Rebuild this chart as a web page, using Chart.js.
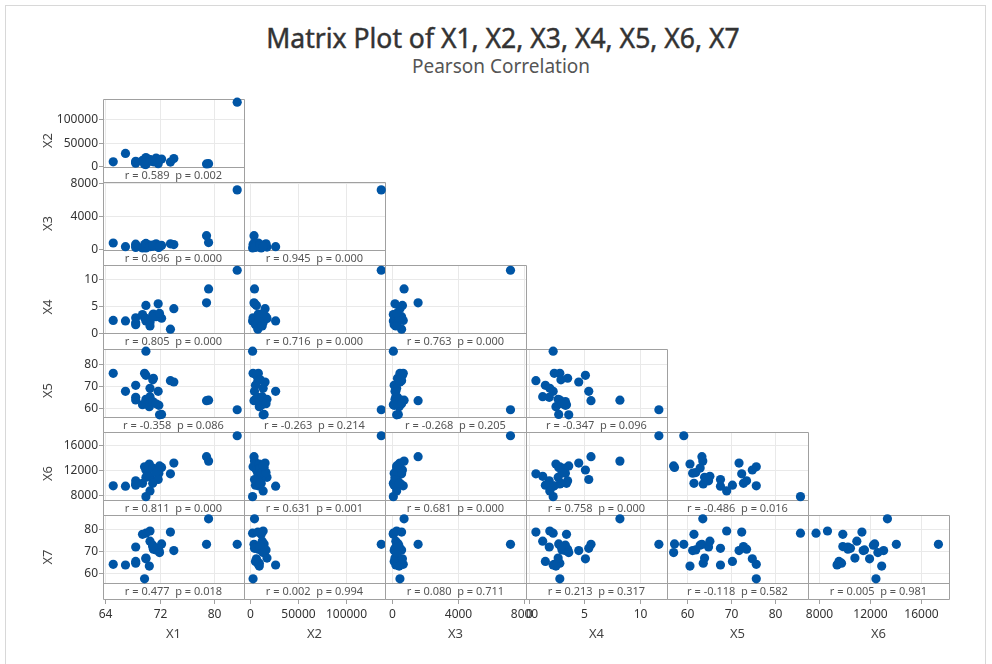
<!DOCTYPE html>
<html><head><meta charset="utf-8">
<script src="https://cdn.jsdelivr.net/npm/chart.js@4.4.0/dist/chart.umd.min.js"></script>
<style>
html,body{margin:0;padding:0;background:#fff;}
body{width:992px;height:664px;position:relative;overflow:hidden;font-family:'Noto Sans',sans-serif;}
#frame{position:absolute;left:5px;top:5px;width:981px;height:720px;border:1px solid #d8d8d8;box-sizing:border-box;}
#title{position:absolute;left:0;width:1006px;top:21px;text-align:center;font-size:26.5px;font-weight:400;-webkit-text-stroke:0.45px #333;line-height:34px;color:#333;}
#sub{position:absolute;left:0;width:1002px;top:53px;text-align:center;font-size:19px;line-height:26px;color:#555;}
canvas{position:absolute;}
</style></head><body>
<div id="frame"></div>
<div id="title">Matrix Plot of X1, X2, X3, X4, X5, X6, X7</div>
<div id="sub">Pearson Correlation</div>
<script>
// ---- data (one entry per observation) ----
const varNames = ['X1','X2','X3','X4','X5','X6','X7'];
const X1 = [83.4, 79.2, 78.9, 70.0, 69.8, 65.2, 67.0, 68.5, 68.5, 68.5, 69.5, 70.6, 73.6, 70.5, 70.0, 70.0, 70.6, 72.3, 71.0, 74.1, 71.9, 71.1, 71.5, 71.8, 71.0, 72.0];
const X2 = [137000, 5000, 4500, 3000, 3500, 9000, 27000, 8000, 6000, 10000, 12000, 14000, 8500, 10000, 18000, 7000, 13000, 15000, 11000, 16000, 12000, 9000, 17000, 5000, 11000, 14000];
const X3 = [7200, 750, 1600, 100, 500, 700, 250, 350, 150, 550, 100, 300, 600, 450, 200, 650, 250, 400, 300, 500, 150, 350, 600, 200, 450, 300];
const X4 = [11.7, 8.2, 5.6, 2.2, 2.8, 2.3, 2.2, 1.85, 1.5, 2.8, 3.4, 1.9, 0.65, 2.45, 2.65, 5.1, 1.26, 2.7, 3.3, 4.5, 3.3, 3.5, 3.0, 5.4, 2.9, 3.6];
const X5 = [59.3, 63.6, 63.4, 85.7, 75.7, 75.7, 67.6, 64.9, 70.3, 63.7, 61.6, 69.0, 72.4, 60.7, 64.0, 74.8, 65.2, 57.2, 63.0, 71.8, 61.3, 73.5, 62.0, 67.6, 72.8, 57.0];
const X6 = [17400, 13400, 14100, 7800, 12500, 9500, 9450, 10300, 9600, 9800, 9900, 8700, 11400, 12950, 10850, 12000, 11000, 12400, 12300, 13100, 11500, 10300, 11600, 10500, 9900, 12650];
const X7 = [73.0, 84.5, 73.0, 78.0, 57.5, 64.0, 63.7, 71.8, 65.3, 64.5, 77.5, 79.0, 78.5, 63.2, 66.8, 66.5, 74.4, 73.2, 72.6, 70.2, 70.2, 70.8, 70.5, 71.2, 72.0, 69.3];

// ---- tick labels per variable ----
const tickX1 = [64, 72, 80];
const tickX2 = [0, 50000, 100000];
const tickX3 = [0, 4000, 8000];
const tickX4 = [0, 5, 10];
const tickX5 = [60, 70, 80];
const tickX6 = [8000, 12000, 16000];
const tickX7 = [60, 70, 80];

// ---- correlation labels, row by row (rows X2..X7, columns X1..) ----
const rValues = [
  ['0.589'],
  ['0.696','0.945'],
  ['0.805','0.716','0.763'],
  ['-0.358','-0.263','-0.268','-0.347'],
  ['0.811','0.631','0.681','0.758','-0.486'],
  ['0.477','0.002','0.080','0.213','-0.118','0.005']
];
const pValues = [
  ['0.002'],
  ['0.000','0.000'],
  ['0.000','0.000','0.000'],
  ['0.086','0.214','0.205','0.096'],
  ['0.000','0.001','0.000','0.000','0.016'],
  ['0.018','0.994','0.711','0.317','0.582','0.981']
];

// ---- axis ranges ----
const colRange = [[63.7,84.4],[-5940,140900],[-406,8140],[-0.24,12.43],[55.5,87.4],[7170,18230]];
const rowRange = [[-2146,143777],[-159,8164],[-0.06,12.68],[56.04,86.67],[7268,17994],[55.6,86.2]];

const vars = [X1,X2,X3,X4,X5,X6,X7];
const ticks = [tickX1,tickX2,tickX3,tickX4,tickX5,tickX6,tickX7];

// ---- layout ----
const colLeft = [103,244,385,526,667,808];
const colW = 141;
const rowTop = [99,182,265,349,432,515,599];
const plotH = 68;
const M = 26;
const FONT = "'Noto Sans', sans-serif";

function fmt(v){ return String(v); }

function makePanel(ri, ci){
  const yi = ri + 1, xi = ci;
  const left = ci === 0 ? 0 : colLeft[ci] - M;
  const right = colLeft[ci] + colW + M;
  const top = rowTop[ri] - M;
  const bottom = ri === 5 ? 664 : rowTop[ri+1] + M;
  const cv = document.createElement('canvas');
  cv.width = right - left; cv.height = bottom - top;
  cv.style.left = left + 'px'; cv.style.top = top + 'px';
  cv.style.width = (right-left) + 'px'; cv.style.height = (bottom-top) + 'px';
  document.body.appendChild(cv);
  const pts = vars[xi].map((v,k)=>({x:v, y:vars[yi][k]}));
  const stripBottomRel = rowTop[ri+1] - top;
  const panelPlugin = {
    id:'panel'+ri+'_'+ci,
    beforeDatasetsDraw(chart){
      const {ctx, chartArea:a, scales:{x,y}} = chart;
      ctx.save();
      // gridlines
      ctx.strokeStyle = '#e9e9e9'; ctx.lineWidth = 1;
      ctx.beginPath();
      for (const t of ticks[xi]) {
        const px = Math.round(x.getPixelForValue(t)) + 0.5;
        if (px > a.left + 1 && px < a.right - 1) { ctx.moveTo(px, a.top); ctx.lineTo(px, a.bottom); }
      }
      for (const t of ticks[yi]) {
        const py = Math.round(y.getPixelForValue(t)) + 0.5;
        if (py > a.top + 1 && py < a.bottom - 1) { ctx.moveTo(a.left, py); ctx.lineTo(a.right, py); }
      }
      ctx.stroke();
      // frame of plot + strip
      ctx.strokeStyle = '#a0a0a0';
      ctx.beginPath();
      const L = a.left + 0.5, R = a.right + 0.5, T = a.top + 0.5, B = a.bottom + 0.5, SB = stripBottomRel + 0.5;
      ctx.moveTo(L, T); ctx.lineTo(R, T); ctx.lineTo(R, SB); ctx.lineTo(L, SB); ctx.closePath();
      ctx.moveTo(L, B); ctx.lineTo(R, B);
      ctx.stroke();
      // strip text
      ctx.fillStyle = '#555';
      ctx.font = '11px ' + FONT;
      ctx.textAlign = 'center'; ctx.textBaseline = 'middle';
      ctx.fillText('r = ' + rValues[ri][ci] + '  p = ' + pValues[ri][ci], (a.left + a.right)/2, (a.bottom + stripBottomRel)/2 + 1);
      // y axis ticks / title
      ctx.fillStyle = '#333'; ctx.strokeStyle = '#a0a0a0';
      if (ci === 0) {
        ctx.font = '12px ' + FONT;
        ctx.textAlign = 'right'; ctx.textBaseline = 'middle';
        for (const t of ticks[yi]) {
          const py = Math.round(y.getPixelForValue(t)) + 0.5;
          if (py < a.top - 1 || py > a.bottom + 1) continue;
          ctx.beginPath(); ctx.moveTo(a.left - 4, py); ctx.lineTo(a.left, py); ctx.stroke();
          ctx.fillText(fmt(t), a.left - 5, py);
        }
        ctx.save();
        ctx.font = '13px ' + FONT; ctx.fillStyle = '#444';
        ctx.translate(48, (a.top + stripBottomRel)/2);
        ctx.rotate(-Math.PI/2);
        ctx.textAlign = 'center'; ctx.textBaseline = 'middle';
        ctx.fillText(varNames[yi], 0, 0);
        ctx.restore();
      }
      // x axis ticks / title
      if (ri === 5) {
        ctx.font = '12px ' + FONT;
        ctx.textAlign = 'center'; ctx.textBaseline = 'middle';
        for (const t of ticks[xi]) {
          const px = Math.round(x.getPixelForValue(t)) + 0.5;
          if (px < a.left - 1 || px > a.right + 1) continue;
          ctx.beginPath(); ctx.moveTo(px, stripBottomRel); ctx.lineTo(px, stripBottomRel + 5); ctx.stroke();
          ctx.fillText(fmt(t), px, stripBottomRel + 16);
        }
        ctx.font = '13px ' + FONT; ctx.fillStyle = '#444';
        ctx.fillText(varNames[xi], (a.left + a.right)/2, stripBottomRel + 35);
      }
      ctx.restore();
    }
  };
  new Chart(cv, {
    type:'scatter',
    data:{datasets:[{data:pts, backgroundColor:'#0055a5', borderWidth:0, pointRadius:4.6, pointHoverRadius:4.6, clip:false}]},
    options:{
      responsive:false, animation:false, events:[],
      layout:{padding:{left:colLeft[ci]-left, right:M, top:M, bottom:(bottom-top)-(M+plotH)}},
      plugins:{legend:{display:false}, tooltip:{enabled:false}},
      scales:{
        x:{type:'linear', display:false, min:colRange[xi][0], max:colRange[xi][1]},
        y:{type:'linear', display:false, min:rowRange[ri][0], max:rowRange[ri][1]}
      }
    },
    plugins:[panelPlugin]
  });
}

for (let ri = 0; ri < 6; ri++) for (let ci = 0; ci <= ri; ci++) makePanel(ri, ci);
</script>
</body></html>
